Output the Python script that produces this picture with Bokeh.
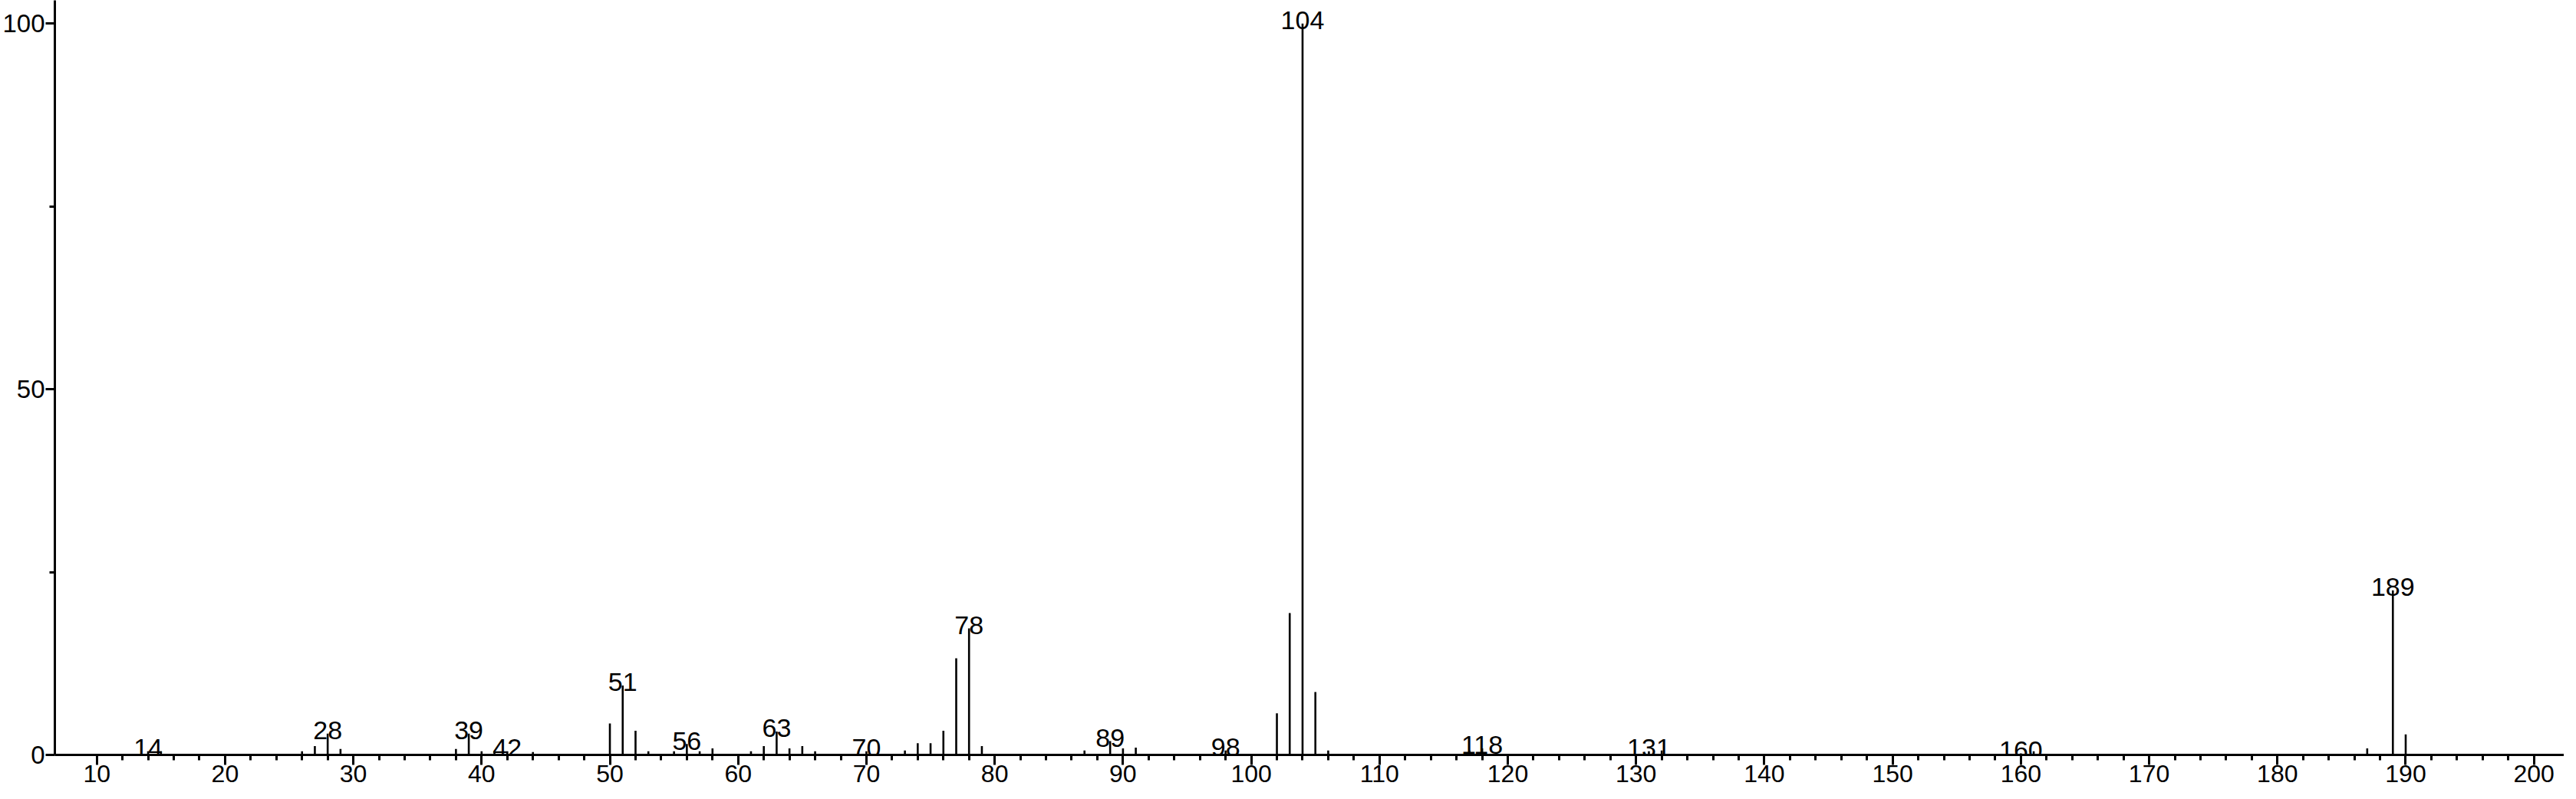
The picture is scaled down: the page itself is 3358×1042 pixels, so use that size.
from bokeh.plotting import figure
from bokeh.models import Range1d, FixedTicker, ColumnDataSource
from bokeh.embed import file_html
from bokeh.resources import INLINE
from bokeh.core.properties import value

# m/z values and relative intensities (%)
mz = [14, 15, 26, 27, 28, 29, 38, 39, 40, 41, 42, 44, 50, 51, 52, 53, 55, 56, 57, 58,
      61, 62, 63, 64, 65, 66, 70, 73, 74, 75, 76, 77, 78, 79, 87, 89, 90, 91, 98,
      102, 103, 104, 105, 106, 117, 118, 131, 132, 160, 161, 187, 189, 190]
intensity = [0.5, 0.5, 0.5, 1.2, 2.9, 0.8, 0.8, 2.9, 0.5, 0.5, 0.5, 0.4, 4.3, 9.5, 3.3, 0.5, 0.5, 1.5, 0.5, 0.9,
             0.5, 1.2, 3.2, 0.9, 1.2, 0.5, 0.5, 0.6, 1.6, 1.6, 3.3, 13.2, 17.3, 1.2, 0.6, 1.9, 0.9, 1.0, 0.6,
             5.7, 19.4, 100, 8.6, 0.6, 0.6, 0.9, 0.5, 0.6, 0.2, 0.5, 0.9, 22.5, 2.8]

# annotated peaks
label_mz = [14, 28, 39, 42, 51, 56, 63, 70, 78, 89, 98, 104, 118, 131, 160, 189]

x_major = list(range(10, 201, 10))
x_minor = [v for v in range(12, 200, 2) if v % 10 != 0]
y_major = [0, 50, 100]
y_minor = [25, 75]

FONT = "Liberation Sans"
FS_X = "32px"
FS_Y = "33px"
FS_LAB = "34px"

p = figure(width=3342, height=1026, output_backend="svg", toolbar_location=None,
           x_range=Range1d(6.73, 202.35), y_range=Range1d(0, 103.18),
           min_border_left=63, min_border_right=0, min_border_top=0, min_border_bottom=42)
p.outline_line_color = None
p.grid.visible = False
p.background_fill_color = "white"
p.border_fill_color = "white"

src = ColumnDataSource(dict(x=mz, y=intensity, y0=[0] * len(mz)))
p.segment(x0="x", y0="y0", x1="x", y1="y", source=src, line_color="black", line_width=2.6)

lookup = dict(zip(mz, intensity))
lab = ColumnDataSource(dict(x=label_mz, y=[lookup[m] for m in label_mz],
                            t=[str(m) for m in label_mz]))
p.text(x="x", y="y", text="t", source=lab, text_align="center", text_baseline="alphabetic",
       y_offset=-4, text_font=value(FONT), text_font_size=FS_LAB, text_color="black")

xa = p.xaxis[0]
xa.ticker = FixedTicker(ticks=x_major, minor_ticks=x_minor)
ya = p.yaxis[0]
ya.ticker = FixedTicker(ticks=y_major, minor_ticks=y_minor)

for ax in (xa, ya):
    ax.axis_line_width = 3
    ax.axis_line_color = "black"
    ax.major_tick_line_width = 3
    ax.minor_tick_line_width = 3
    ax.major_tick_line_color = "black"
    ax.minor_tick_line_color = "black"
    ax.major_tick_in = 0
    ax.minor_tick_in = 0
    ax.major_label_text_font = FONT
    ax.major_label_text_color = "black"

xa.major_label_text_font_size = FS_X
ya.major_label_text_font_size = FS_Y
xa.major_tick_out = 13
xa.minor_tick_out = 7
xa.major_label_standoff = 0
ya.major_tick_out = 12
ya.minor_tick_out = 7
ya.major_label_standoff = 1

open("out.html", "w").write(file_html(p, INLINE))
